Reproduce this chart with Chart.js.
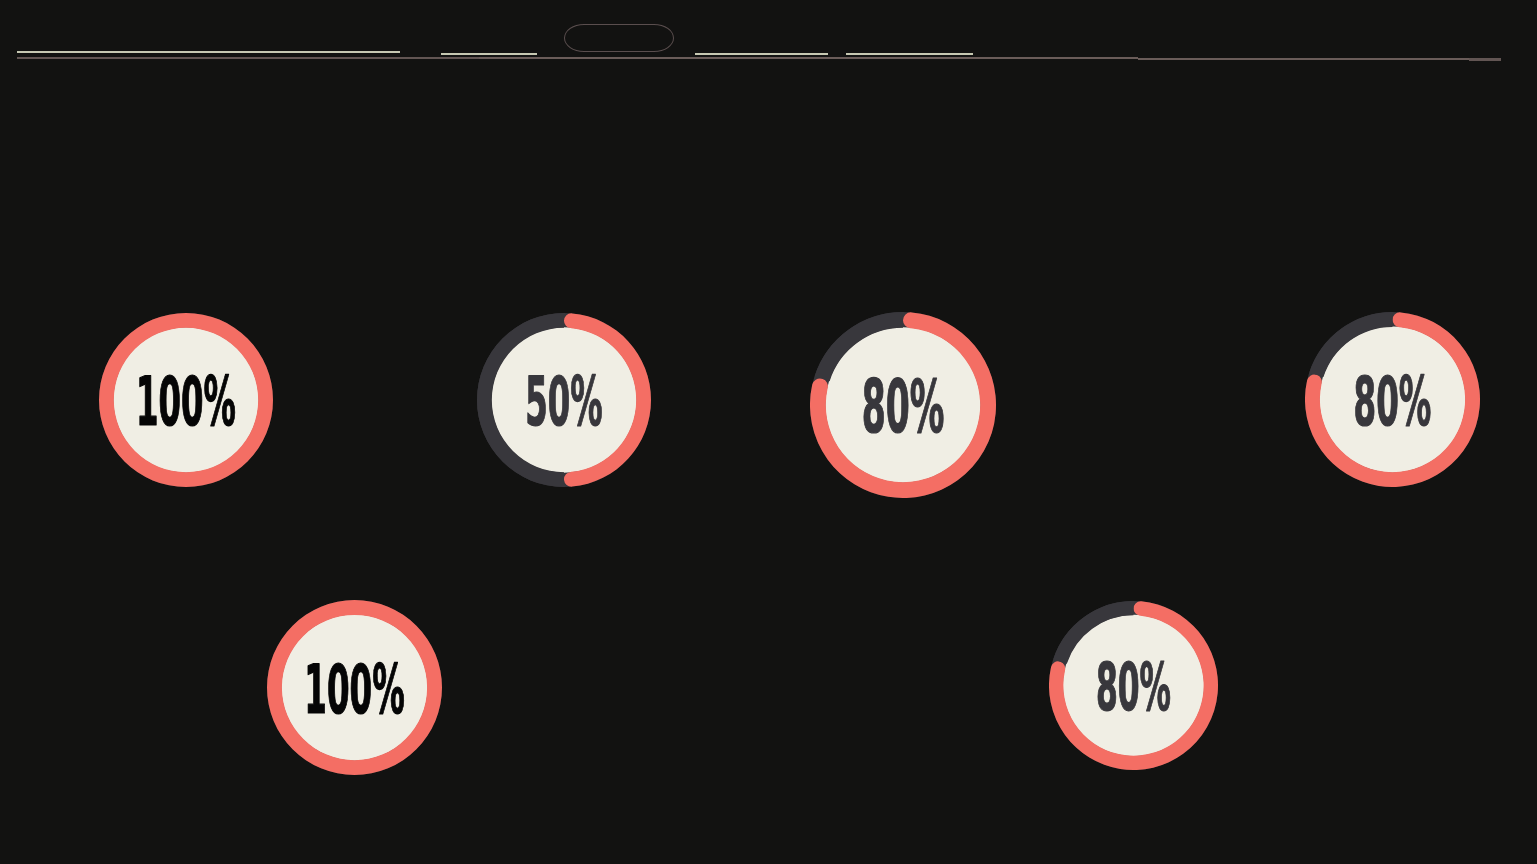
<!DOCTYPE html>
<html>
<head>
<meta charset="utf-8">
<script src="https://cdn.jsdelivr.net/npm/chart.js@4.4.1/dist/chart.umd.min.js"></script>
<style>
  html, body { margin: 0; padding: 0; background: #121211; width: 1537px; height: 864px; overflow: hidden; }
  .gauge { position: absolute; }
  .hl { position: absolute; }
</style>
</head>
<body>
<div id="root"></div>
<script>
// ---- data ----
const gaugeLabels = ['100%', '50%', '80%', '80%', '100%', '80%'];
const gaugeValues = [100, 50, 80, 80, 100, 80];
const gaugeMax = 100;

// ---- layout (positions / sizes) ----
const gaugeLayout = [
  { cx: 186,    cy: 400,   r: 87 },
  { cx: 564,    cy: 400,   r: 87 },
  { cx: 902.5,  cy: 405,   r: 93 },
  { cx: 1392,   cy: 399.5, r: 87.5 },
  { cx: 354,    cy: 687.5, r: 87.5 },
  { cx: 1133.5, cy: 685,   r: 84.5 }
];

// ---- styles ----
const COLOR_FILL = '#f46e64';
const COLOR_TRACK = '#38373c';
const COLOR_INNER = '#f0eee4';
const FONT_STACK = '"Liberation Sans Narrow", "DejaVu Sans Condensed", "Liberation Sans", "DejaVu Sans", sans-serif';

// header decoration
const root = document.getElementById('root');
function addLine(x, y, w, h, color) {
  const d = document.createElement('div');
  d.className = 'hl';
  d.style.left = x + 'px'; d.style.top = y + 'px';
  d.style.width = w + 'px'; d.style.height = h + 'px';
  d.style.background = color;
  root.appendChild(d);
}
addLine(17, 51, 383, 2, '#c6c8b2');
addLine(441, 53, 96, 2, '#c6c8b2');
addLine(695, 53, 133, 2, '#c6c8b2');
addLine(846, 53, 127, 2, '#c6c8b2');
addLine(17, 57, 462, 2, '#625553');
addLine(479, 57, 659, 2, '#6a5c59');
addLine(1138, 58, 331, 2, '#6a5c59');
addLine(1469, 58, 32, 3, '#625553');
const pill = document.createElement('div');
pill.style.cssText = 'position:absolute;left:564px;top:24px;width:110px;height:28px;box-sizing:border-box;border:1px solid #5a4e4e;border-radius:20px/14px;';
root.appendChild(pill);

// plugin: track ring + inner disc + centre text
const gaugeDecor = {
  id: 'gaugeDecor',
  beforeDatasetsDraw(chart) {
    const arc = chart.getDatasetMeta(0).data[0];
    if (!arc) return;
    const { x, y, innerRadius, outerRadius } = arc.getProps(['x', 'y', 'innerRadius', 'outerRadius'], true);
    const ctx = chart.ctx;
    ctx.save();
    ctx.beginPath();
    ctx.arc(x, y, outerRadius, 0, Math.PI * 2);
    ctx.arc(x, y, innerRadius, 0, Math.PI * 2, true);
    ctx.closePath();
    ctx.fillStyle = COLOR_TRACK;
    ctx.fill();
    ctx.beginPath();
    ctx.arc(x, y, innerRadius + 0.5, 0, Math.PI * 2);
    ctx.fillStyle = COLOR_INNER;
    ctx.fill();
    ctx.restore();
  },
  afterDatasetsDraw(chart, args, opts) {
    const arc = chart.getDatasetMeta(0).data[0];
    if (!arc) return;
    const { x, y, outerRadius } = arc.getProps(['x', 'y', 'outerRadius'], true);
    const ctx = chart.ctx;
    const capTarget = outerRadius * 0.585;
    ctx.save();
    const testSize = 100;
    ctx.font = 'bold ' + testSize + 'px ' + FONT_STACK;
    const asc = ctx.measureText('8').actualBoundingBoxAscent || testSize * 0.72;
    const size = capTarget * testSize / asc;
    ctx.font = 'bold ' + size + 'px ' + FONT_STACK;
    const refW = ctx.measureText('80%').width;
    const scaleX = (capTarget * 1.52) / refW;
    ctx.translate(x, y + capTarget / 2);
    ctx.scale(scaleX, 1);
    ctx.textAlign = 'center';
    ctx.textBaseline = 'alphabetic';
    ctx.fillStyle = opts.color;
    ctx.strokeStyle = opts.color;
    ctx.lineWidth = 1.2;
    ctx.lineJoin = 'round';
    ctx.fillText(opts.text, 0, 0);
    ctx.strokeText(opts.text, 0, 0);
    ctx.restore();
  }
};

gaugeValues.forEach((v, i) => {
  const L = gaugeLayout[i];
  const box = document.createElement('div');
  box.className = 'gauge';
  box.style.left = (L.cx - L.r) + 'px';
  box.style.top = (L.cy - L.r) + 'px';
  box.style.width = (2 * L.r) + 'px';
  box.style.height = (2 * L.r) + 'px';
  const cv = document.createElement('canvas');
  box.appendChild(cv);
  root.appendChild(box);
  const full = v >= gaugeMax;
  new Chart(cv, {
    type: 'doughnut',
    data: {
      labels: ['value', 'rest'],
      datasets: [{
        data: [v, gaugeMax - v],
        backgroundColor: [COLOR_FILL, COLOR_TRACK],
        borderWidth: 0,
        borderRadius: full ? [0, 0] : [99, 0],
        hoverOffset: 0,
        offset: 0
      }]
    },
    options: {
      responsive: true,
      maintainAspectRatio: false,
      animation: false,
      events: [],
      cutout: '83%',
      layout: { padding: 0 },
      plugins: {
        legend: { display: false },
        tooltip: { enabled: false },
        gaugeDecor: { text: gaugeLabels[i], color: v >= gaugeMax ? '#050505' : '#38373c' }
      }
    },
    plugins: [gaugeDecor]
  });
});
</script>
</body>
</html>
